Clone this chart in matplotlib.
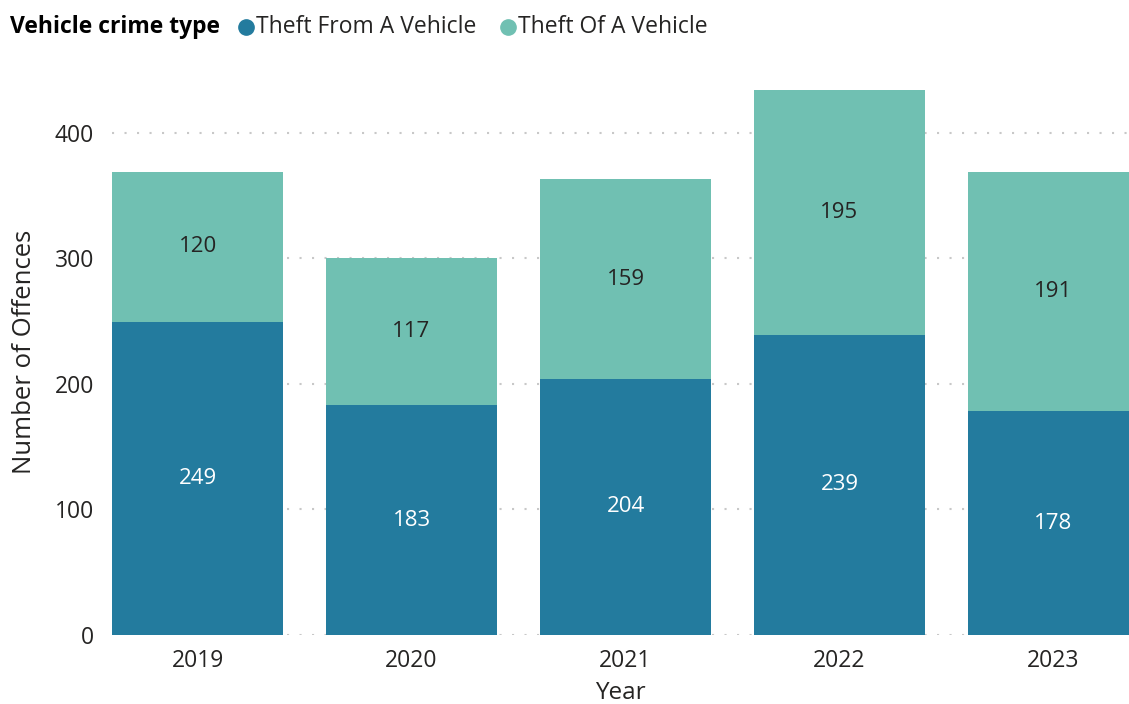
import matplotlib.pyplot as plt
import numpy as np
from matplotlib.lines import Line2D

years = ['2019', '2020', '2021', '2022', '2023']
theft_from = [249, 183, 204, 239, 178]
theft_of = [120, 117, 159, 195, 191]
series_names = ['Theft From A Vehicle', 'Theft Of A Vehicle']
colors = ['#237B9E', '#70C0B2']

plt.rcParams['font.family'] = ['Open Sans', 'DejaVu Sans']
W, H = 1129, 704

fig = plt.figure(figsize=(W / 100, H / 100), dpi=100)
ax = fig.add_axes([112 / W, 1 - 635 / H, 1 - 112 / W, (635 - 85) / H])

x = np.arange(len(years))
ax.bar(x, theft_from, width=0.8, color=colors[0], zorder=2)
ax.bar(x, theft_of, width=0.8, bottom=theft_from, color=colors[1], zorder=2)

for i in range(len(years)):
    ax.text(x[i], theft_from[i] / 2, str(theft_from[i]), ha='center', va='center',
            color='white', fontsize=16, zorder=3)
    ax.text(x[i], theft_from[i] + theft_of[i] / 2, str(theft_of[i]), ha='center',
            va='center', color='#252423', fontsize=16, zorder=3)

ax.set_xlim(-0.4, 4.353)
ax.set_ylim(0, 438)
ax.set_yticks([0, 100, 200, 300, 400])
ax.set_xticks(x)
ax.set_xticklabels(years)
ax.tick_params(axis='both', length=0, labelsize=16.5, labelcolor='#252423')
ax.tick_params(axis='y', pad=13)
ax.tick_params(axis='x', pad=10)
ax.grid(axis='y', color='#C8C8C8', linestyle=(0, (1, 5)), linewidth=1.5, zorder=1)
for s in ax.spines.values():
    s.set_visible(False)

ax.set_xlabel('Year', fontsize=17.5, color='#252423', labelpad=6)
ax.set_ylabel('Number of Offences', fontsize=18.5, color='#252423')
ax.yaxis.set_label_coords(-0.0737, 0.5145)

# legend row across the top
ly = 1 - 27 / H
fig.text(10 / W, ly, 'Vehicle crime type', fontsize=16.5, fontweight='bold',
         color='#000000', ha='left', va='center')
for cx, tx, c, name in [(246, 256, colors[0], series_names[0]),
                        (508, 518, colors[1], series_names[1])]:
    fig.add_artist(Line2D([cx / W], [ly], transform=fig.transFigure, marker='o',
                          markersize=11, linestyle='', color=c))
    fig.text(tx / W, ly, name, fontsize=16.5, color='#252423', ha='left', va='center')

fig.savefig('out.png', dpi=100)
